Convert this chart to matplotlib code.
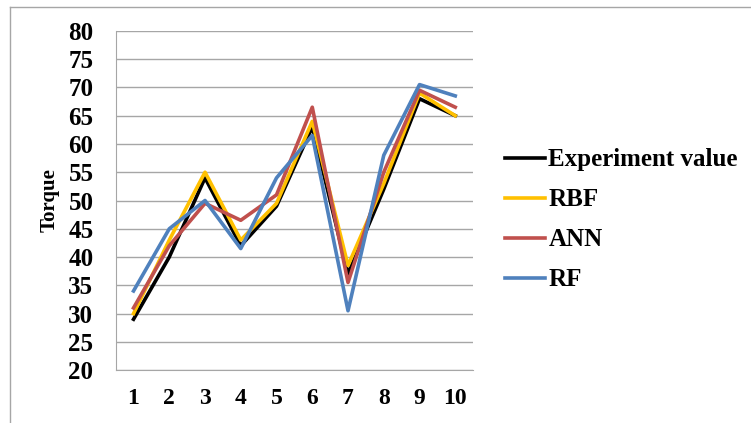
import matplotlib
matplotlib.use("Agg")
import matplotlib.pyplot as plt

samples = [1, 2, 3, 4, 5, 6, 7, 8, 9, 10]
experiment = [29, 40, 54, 42, 49, 63, 37, 52, 68, 65]
rbf = [30, 43, 55, 43, 49.5, 64, 38.5, 53, 69, 65]
ann = [31, 42, 49.5, 46.5, 51, 66.5, 35.5, 55, 69.5, 66.5]
rf = [34, 45, 50, 41.5, 54, 61.5, 30.5, 58, 70.5, 68.5]

series = [
    ("Experiment value", experiment, "#000000"),
    ("RBF", rbf, "#ffc000"),
    ("ANN", ann, "#c0504d"),
    ("RF", rf, "#4f81bd"),
]

plt.rcParams["font.family"] = ["Liberation Serif", "DejaVu Serif"]
plt.rcParams["font.weight"] = "bold"

fig = plt.figure(figsize=(7.51, 4.23), dpi=100)
ax = fig.add_axes([0.154, 0.125, 0.476, 0.802])

for name, vals, color in series:
    ax.plot(samples, vals, color=color, lw=2.6, label=name)

ax.set_xlim(0.5, 10.5)
ax.set_ylim(20, 80)
ax.set_yticks(range(20, 81, 5))
ax.set_xticks(samples)
ax.grid(axis="y", color="#a6a6a6", lw=1)
ax.set_axisbelow(True)
for side in ("top", "right"):
    ax.spines[side].set_visible(False)
for side in ("left", "bottom"):
    ax.spines[side].set_color("#a6a6a6")
ax.tick_params(axis="y", length=0, labelsize=18, pad=16)
ax.tick_params(axis="x", length=0, labelsize=17, pad=13)
ax.set_ylabel("Torque", fontsize=15, fontweight="bold", labelpad=6)

fig.legend(*ax.get_legend_handles_labels(), loc="center left",
           bbox_to_anchor=(0.672, 0.48), frameon=False, borderpad=0,
           borderaxespad=0, fontsize=18, handlelength=1.6,
           handletextpad=0.15, labelspacing=0.68)

# outer frame (left and top edges visible in the picture)
fig.add_artist(plt.Line2D([0.0133, 0.0133], [0.0, 0.9835], color="#a6a6a6", lw=1))
fig.add_artist(plt.Line2D([0.0133, 1.0], [0.9835, 0.9835], color="#a6a6a6", lw=1))

fig.savefig("out.png", dpi=100)
